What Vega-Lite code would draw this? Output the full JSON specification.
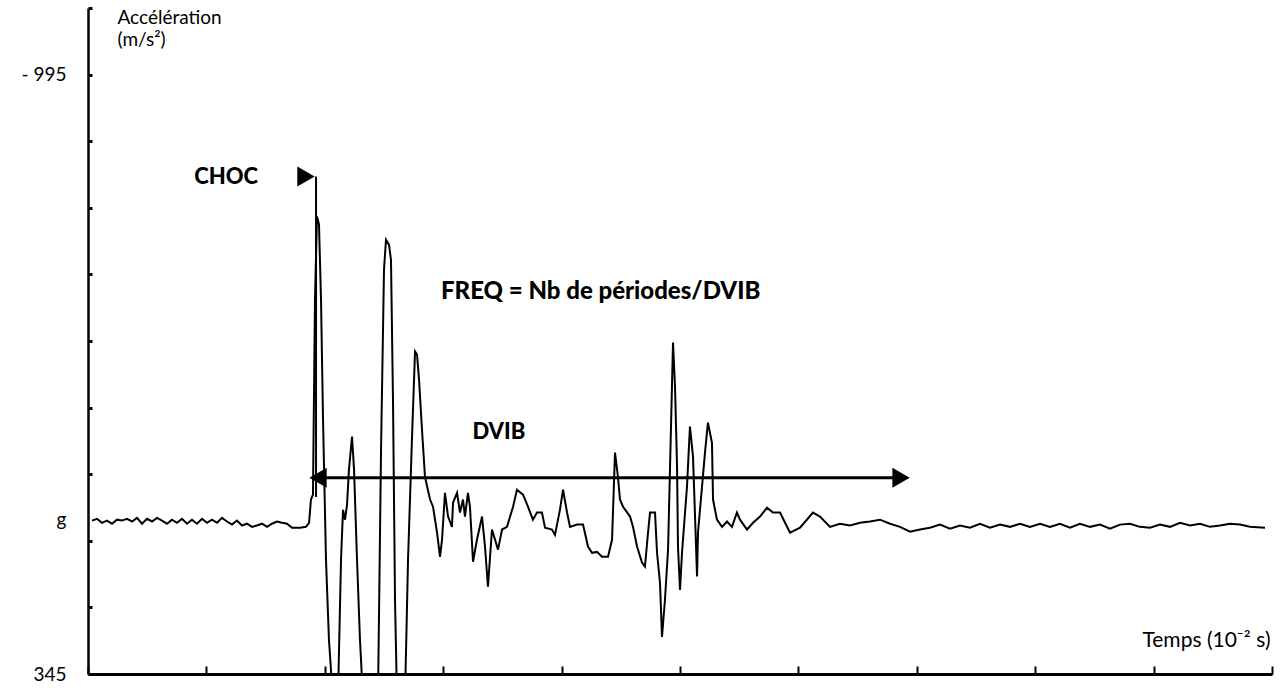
{
  "$schema": "https://vega.github.io/schema/vega-lite/v6.json",
  "width": 1184,
  "height": 666,
  "autosize": "none",
  "padding": {"left": 88, "top": 8, "right": 12, "bottom": 14},
  "background": "white",
  "config": {
    "view": {"stroke": null},
    "font": "Lato",
    "axis": {"grid": false, "domainColor": "black", "tickColor": "black", "labelColor": "black", "titleColor": "black", "labelFont": "Lato", "titleFont": "Lato", "titleFontWeight": "normal"}
  },
  "datasets": {
    "signal": [
      {"t":0.34,"v":2},{"t":0.76,"v":-2},{"t":1.18,"v":7},{"t":1.60,"v":2},{"t":2.03,"v":9},{"t":2.45,"v":0},{"t":2.87,"v":2},{"t":3.29,"v":-2},{"t":3.72,"v":4},{"t":4.14,"v":-4},{"t":4.56,"v":9},{"t":4.98,"v":-2},{"t":5.41,"v":4},{"t":5.83,"v":-4},{"t":6.25,"v":2},{"t":6.67,"v":9},{"t":7.09,"v":0},{"t":7.52,"v":7},{"t":7.94,"v":-2},{"t":8.36,"v":9},{"t":8.78,"v":0},{"t":9.21,"v":9},{"t":9.63,"v":-2},{"t":10.05,"v":7},{"t":10.47,"v":0},{"t":10.90,"v":7},{"t":11.32,"v":-4},{"t":11.74,"v":4},{"t":12.16,"v":11},{"t":12.58,"v":2},{"t":13.01,"v":13},{"t":13.43,"v":9},{"t":13.85,"v":16},{"t":14.27,"v":13},{"t":14.70,"v":9},{"t":15.12,"v":16},{"t":15.54,"v":9},{"t":15.96,"v":4},{"t":16.39,"v":7},{"t":16.81,"v":9},{"t":17.23,"v":18},{"t":17.91,"v":18},{"t":18.41,"v":16},{"t":18.67,"v":7},{"t":18.83,"v":-45},{"t":19.00,"v":-56},{"t":19.17,"v":-492},{"t":19.34,"v":-678},{"t":19.51,"v":-660},{"t":19.68,"v":-492},{"t":19.85,"v":-224},{"t":20.10,"v":89},{"t":20.35,"v":268},{"t":20.69,"v":402},{"t":21.11,"v":402},{"t":21.37,"v":89},{"t":21.54,"v":-22},{"t":21.71,"v":0},{"t":21.88,"v":-34},{"t":22.04,"v":-112},{"t":22.30,"v":-186},{"t":22.47,"v":-112},{"t":22.72,"v":89},{"t":22.97,"v":268},{"t":23.23,"v":402},{"t":24.49,"v":402},{"t":24.75,"v":-157},{"t":25.00,"v":-559},{"t":25.17,"v":-626},{"t":25.42,"v":-615},{"t":25.59,"v":-581},{"t":25.76,"v":-268},{"t":25.93,"v":179},{"t":26.10,"v":402},{"t":26.77,"v":402},{"t":27.03,"v":89},{"t":27.36,"v":-179},{"t":27.62,"v":-376},{"t":27.79,"v":-369},{"t":27.96,"v":-313},{"t":28.21,"v":-201},{"t":28.46,"v":-96},{"t":28.89,"v":-45},{"t":29.14,"v":-29},{"t":29.48,"v":29},{"t":29.73,"v":83},{"t":29.90,"v":45},{"t":30.15,"v":-60},{"t":30.41,"v":-7},{"t":30.74,"v":16},{"t":30.83,"v":-38},{"t":31.17,"v":-60},{"t":31.42,"v":-16},{"t":31.67,"v":-45},{"t":31.84,"v":-7},{"t":32.09,"v":-60},{"t":32.26,"v":-29},{"t":32.52,"v":94},{"t":32.85,"v":45},{"t":33.28,"v":-7},{"t":33.53,"v":60},{"t":33.78,"v":150},{"t":34.12,"v":22},{"t":34.38,"v":45},{"t":34.63,"v":67},{"t":34.97,"v":22},{"t":35.39,"v":16},{"t":35.90,"v":-29},{"t":36.23,"v":-67},{"t":36.74,"v":-56},{"t":37.16,"v":-29},{"t":37.58,"v":0},{"t":37.92,"v":-16},{"t":38.34,"v":-16},{"t":38.60,"v":18},{"t":39.19,"v":22},{"t":39.44,"v":34},{"t":39.86,"v":-22},{"t":40.12,"v":-67},{"t":40.46,"v":-16},{"t":40.71,"v":16},{"t":41.30,"v":11},{"t":41.81,"v":11},{"t":42.23,"v":60},{"t":42.57,"v":74},{"t":42.99,"v":72},{"t":43.41,"v":83},{"t":43.92,"v":83},{"t":44.26,"v":45},{"t":44.51,"v":-150},{"t":44.76,"v":-96},{"t":44.93,"v":-45},{"t":45.19,"v":-29},{"t":45.78,"v":-7},{"t":46.03,"v":16},{"t":46.37,"v":60},{"t":46.79,"v":96},{"t":47.04,"v":105},{"t":47.30,"v":29},{"t":47.47,"v":-16},{"t":47.89,"v":-16},{"t":48.06,"v":74},{"t":48.31,"v":141},{"t":48.48,"v":262},{"t":48.73,"v":179},{"t":48.99,"v":67},{"t":49.16,"v":-119},{"t":49.32,"v":-297},{"t":49.41,"v":-396},{"t":49.58,"v":-297},{"t":49.75,"v":-119},{"t":49.83,"v":60},{"t":50.00,"v":157},{"t":50.17,"v":74},{"t":50.59,"v":-74},{"t":50.84,"v":-208},{"t":51.10,"v":-141},{"t":51.27,"v":-7},{"t":51.44,"v":127},{"t":51.52,"v":29},{"t":51.86,"v":-74},{"t":52.11,"v":-150},{"t":52.36,"v":-217},{"t":52.70,"v":-172},{"t":52.79,"v":-45},{"t":53.12,"v":0},{"t":53.55,"v":16},{"t":53.97,"v":4},{"t":54.39,"v":16},{"t":54.81,"v":-16},{"t":55.07,"v":0},{"t":55.66,"v":22},{"t":56.17,"v":7},{"t":56.76,"v":-7},{"t":57.35,"v":-27},{"t":57.85,"v":-16},{"t":58.45,"v":-16},{"t":59.29,"v":29},{"t":60.14,"v":18},{"t":61.23,"v":-16},{"t":61.82,"v":-7},{"t":62.67,"v":16},{"t":63.51,"v":9},{"t":64.36,"v":13},{"t":65.20,"v":7},{"t":66.05,"v":4},{"t":66.89,"v":0},{"t":67.74,"v":9},{"t":68.58,"v":16},{"t":69.43,"v":27},{"t":70.27,"v":22},{"t":71.11,"v":18},{"t":71.96,"v":11},{"t":72.80,"v":20},{"t":73.65,"v":13},{"t":74.49,"v":18},{"t":75.34,"v":9},{"t":76.18,"v":18},{"t":77.03,"v":11},{"t":77.87,"v":16},{"t":78.72,"v":9},{"t":79.56,"v":16},{"t":80.41,"v":9},{"t":81.25,"v":16},{"t":82.09,"v":9},{"t":82.94,"v":18},{"t":83.78,"v":9},{"t":84.63,"v":16},{"t":85.47,"v":11},{"t":86.32,"v":20},{"t":87.16,"v":11},{"t":88.01,"v":9},{"t":88.85,"v":16},{"t":89.70,"v":18},{"t":90.54,"v":11},{"t":91.39,"v":16},{"t":92.23,"v":7},{"t":93.07,"v":13},{"t":93.92,"v":9},{"t":94.76,"v":16},{"t":95.61,"v":13},{"t":96.45,"v":9},{"t":97.30,"v":11},{"t":98.14,"v":16},{"t":99.41,"v":18}
    ]
  },
  "layer": [
    {
      "data": {"name": "signal"},
      "mark": {"type": "line", "color": "black", "strokeWidth": 2, "clip": true, "interpolate": "linear"},
      "encoding": {
        "x": {"field": "t", "type": "quantitative", "scale": {"domain": [0, 100], "nice": false, "zero": false},
          "axis": {"values": [0,10,20,30,40,50,60,70,80,90,100], "labels": false, "tickSize": -8, "tickWidth": 2, "domainWidth": 3,
            "title": "Temps (10⁻² s)", "titleFontSize": 21, "titleAlign": "right", "titleAnchor": null, "titleX": 1182, "titleY": -34, "titleBaseline": "middle"}},
        "y": {"field": "v", "type": "quantitative", "scale": {"domain": [345, -1144], "nice": false, "zero": false},
          "axis": {"values": [345, 196.1, 47.2, 0, -101.7, -250.6, -399.5, -548.4, -697.3, -846.2, -995, -1144],
            "labelExpr": "datum.value == -995 ? '- 995' : datum.value == 345 ? '345' : datum.value == 0 ? 'g' : ''",
            "labelFontSize": 19, "labelPadding": 26, "labelBaseline": "middle",
            "tickSize": -4, "tickWidth": 3, "domainWidth": 2.5,
            "tickOpacity": {"condition": {"test": "datum.value == 0", "value": 0}, "value": 1},
            "title": ["Accélération", "(m/s²)"], "titleAngle": 0, "titleAlign": "left", "titleBaseline": "top", "titleAnchor": null,
            "titleX": 29, "titleY": 0, "titleFontSize": 19, "titleLineHeight": 22}}
      }
    },
    {
      "data": {"values": [{"t": 19.26, "v": -767, "v2": -51}]},
      "mark": {"type": "rule", "color": "black", "strokeWidth": 2},
      "encoding": {"x": {"field": "t", "type": "quantitative"}, "y": {"field": "v", "type": "quantitative"}, "y2": {"field": "v2"}}
    },
    {
      "data": {"values": [{"t": 18.9, "t2": 68.6, "v": -94}]},
      "mark": {"type": "rule", "color": "black", "strokeWidth": 3},
      "encoding": {"x": {"field": "t", "type": "quantitative"}, "x2": {"field": "t2"}, "y": {"field": "v", "type": "quantitative"}}
    },
    {
      "data": {"values": [
        {"t": 18.41, "v": -767, "shape": "triangle-right"},
        {"t": 19.43, "v": -94, "shape": "triangle-left"},
        {"t": 68.67, "v": -94, "shape": "triangle-right"}
      ]},
      "mark": {"type": "point", "filled": true, "color": "black", "opacity": 1, "size": 400},
      "encoding": {"x": {"field": "t", "type": "quantitative"}, "y": {"field": "v", "type": "quantitative"}, "shape": {"field": "shape", "type": "nominal", "scale": null}}
    },
    {
      "data": {"values": [
        {"t": 11.66, "v": -767, "label": "CHOC"},
        {"t": 34.7, "v": -195, "label": "DVIB"}
      ]},
      "mark": {"type": "text", "font": "Lato", "fontWeight": 900, "fontSize": 22, "color": "black", "align": "center", "baseline": "middle"},
      "encoding": {"x": {"field": "t", "type": "quantitative"}, "y": {"field": "v", "type": "quantitative"}, "text": {"field": "label"}}
    },
    {
      "data": {"values": [
        {"t": 43.3, "v": -508, "label": "FREQ = Nb de périodes/DVIB"}
      ]},
      "mark": {"type": "text", "font": "Lato", "fontWeight": 900, "fontSize": 24, "color": "black", "align": "center", "baseline": "middle"},
      "encoding": {"x": {"field": "t", "type": "quantitative"}, "y": {"field": "v", "type": "quantitative"}, "text": {"field": "label"}}
    }
  ]
}
